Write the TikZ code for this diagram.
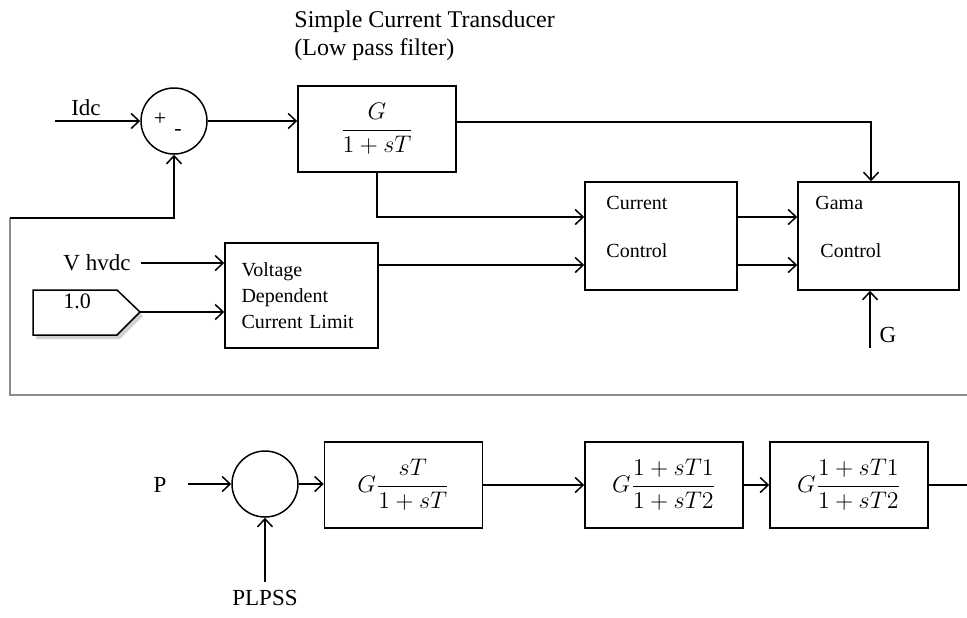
\documentclass[tikz,border=0pt]{standalone}
\usepackage{amsmath}
\usepackage{fontspec}
\setmainfont{Liberation Serif}
\usetikzlibrary{positioning, arrows.meta}

\begin{document}
\begin{tikzpicture}[
    x=0.5pt, y=-0.5pt,
    % Blocks and summing points
    block/.style = {draw, line width=0.75pt, minimum width=79pt, minimum height=43pt, inner sep=0pt, font=\fontsize{12.5}{14}\selectfont},
    ctrl/.style = {draw, line width=0.75pt, minimum height=54pt, inner sep=0pt},
    sumpt/.style = {draw, circle, line width=0.75pt, minimum size=33pt, inner sep=0pt},
    % Texts
    lbl/.style = {inner sep=1pt, font=\fontsize{11.5}{13}\selectfont},
    txt/.style = {inner sep=0pt, anchor=west, font=\fontsize{10}{12}\selectfont},
    % Connectors
    conn/.style = {line width=0.75pt, -{Straight Barb[length=4pt, width=7.5pt, line width=0.75pt]}},
    wire/.style = {line width=0.75pt},
    frame/.style = {line width=1pt, black!45}
]
    \useasboundingbox (0,0) rectangle (967,617);

    % --- TOP LOOP ---
    \node[inner sep=0pt, anchor=west, font=\fontsize{12}{14}\selectfont] (title1) at (294,22) {Simple Current Transducer};
    \node[inner sep=0pt, anchor=west, font=\fontsize{12}{14}\selectfont] (title2) at (294,50) {(Low pass filter)};

    \node[sumpt] (sum1) at (174,121) {};
    \node[inner sep=0pt, font=\fontsize{11}{12}\selectfont] (plus1) at (160,119) {+};
    \node[inner sep=0pt, font=\fontsize{11}{12}\selectfont] (minus1) at (178,132) {-};
    \node[lbl] (idc) at (86,108) {Idc};
    \coordinate (idcin) at (55,121);

    \node[block, font=\fontsize{12}{14}\selectfont] (tf1) at (377,129) {$\dfrac{G}{1+sT}$};

    \node[ctrl, minimum width=76pt] (cc) at (661,236) {};
    \node[txt] (cc1) at (606,203) {Current};
    \node[txt] (cc2) at (606,251) {Control};

    \node[ctrl, minimum width=80.5pt] (gama) at (878.5,236) {};
    \node[txt] (gm1) at (815,203) {Gama};
    \node[txt] (gm2) at (820,251) {Control};

    \node[lbl] (vh) at (97,263) {V hvdc};
    \node[draw, line width=0.75pt, minimum width=76.5pt, minimum height=52.5pt, inner xsep=8pt, text width=60pt, align=left, font=\fontsize{10}{13}\selectfont] (vdcl) at (301.5,295.5) {Voltage\\Dependent\\Current Limit\\[4pt]};

    % constant source
    \fill[black!18] (36,294) -- (120,294) -- (143,316) -- (120,339) -- (36,339) -- cycle;
    \draw[wire, fill=white] (33,290) -- (117,290) -- (140,312) -- (117,335) -- (33,335) -- cycle;
    \node[lbl, font=\fontsize{11}{13}\selectfont] (one) at (77,301) {1.0};
    \coordinate (srctip) at (140,312);

    \node[lbl] (glbl) at (888,335) {G};
    \coordinate (gin) at (870,348);
    \coordinate (gtop) at (871,122);
    \coordinate (ccA) at ([yshift=9.5pt]cc.west);
    \coordinate (ccB) at ([yshift=-14.5pt]cc.west);

    % connectors
    \draw[conn] (idcin) -- (sum1.west);
    \draw[conn] (sum1.east) -- (sum1.east -| tf1.west);
    \draw[conn] (tf1.east |- gtop) -- (gtop) -- (gtop |- gama.north);
    \draw[conn] (tf1.south) |- (ccA);
    \draw[conn] ([xshift=4pt]vh.east) -- (vh.east -| vdcl.west);
    \draw[conn] (srctip) -- (srctip -| vdcl.west);
    \draw[conn] (vdcl.east |- ccB) -- (ccB);
    \draw[conn] (cc.east |- ccA) -- (ccA -| gama.west);
    \draw[conn] (cc.east |- ccB) -- (ccB -| gama.west);
    \draw[conn] (gin) -- (gin |- gama.south);

    % feedback
    \coordinate (fbR) at (967,395);
    \coordinate (fbB) at (10,395);
    \coordinate (fbL) at (10,218);
    \draw[frame] (fbR) -- (fbB) -- (fbL);
    \draw[conn] (fbL) -| (sum1.south);

    % --- BOTTOM CHAIN ---
    \node[sumpt] (sum2) at (265,484) {};
    \node[lbl] (plbl) at (160,485) {P};
    \coordinate (pin) at (188,484);
    \coordinate (plin) at (265,582);
    \node[lbl, below=3pt of plin] (plpss) {PLPSS};

    \node[block] (b1) at (403.5,485) {$G\dfrac{sT}{1+sT}$};
    \node[block] (b2) at (664,485) {$G\dfrac{1+sT1}{1+sT2}$};
    \node[block] (b3) at (849,485) {$G\dfrac{1+sT1}{1+sT2}$};
    \coordinate (outR) at (967,485);

    \draw[conn] (pin) -- (sum2.west);
    \draw[conn] (plin) -- (sum2.south);
    \draw[conn] (sum2.east) -- (sum2.east -| b1.west);
    \draw[conn] (b1.east) -- (b2.west);
    \draw[conn] (b2.east) -- (b3.west);
    \draw[wire] (b3.east) -- (outR);

\end{tikzpicture}
\end{document}
